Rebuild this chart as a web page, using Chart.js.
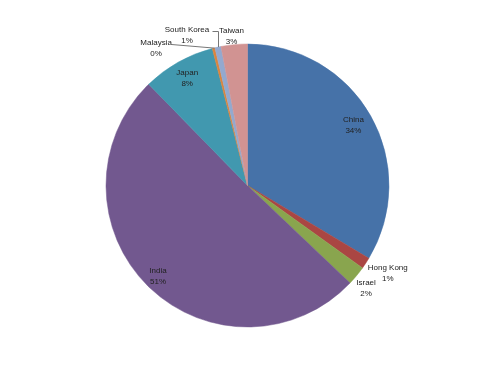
<!DOCTYPE html>
<html lang="en">
<head>
    <meta charset="UTF-8">
    <title>Pie chart</title>
    <script src="https://cdn.jsdelivr.net/npm/chart.js"></script>
    <style>
        html, body { margin: 0; padding: 0; background: #ffffff; }
        #wrap { width: 495px; height: 371px; }
    </style>
</head>
<body>
    <div id="wrap"><canvas id="pie" width="495" height="371"></canvas></div>

    <script>
        // data
        const categories = ["China", "Hong Kong", "Israel", "India", "Japan", "Malaysia", "South Korea", "Taiwan"];
        const shares = [33.6, 1.3, 2.2, 50.6, 8.3, 0.3, 0.7, 3.0];
        const pctLabels = ["34%", "1%", "2%", "51%", "8%", "0%", "1%", "3%"];
        const colors = ["#4672a8", "#aa4643", "#89a54e", "#72588f", "#4198af", "#db843d", "#93a9cf", "#d19392"];

        // label placement: radius factor, optional angle (deg from 12 o'clock), optional leader
        const labelPlace = [
            { r: 0.86 },
            { r: 1.17, a: 122.1 },
            { r: 1.11, a: 131 },
            { r: 0.90 },
            { r: 0.87 },
            { r: 1.164, a: 326.3, leader: { dx: 15, dy: -4 } },
            { r: 1.146, a: 338.1, leader: { dx: 25, dy: -4, elbow: true } },
            { r: 1.063, a: 353.9 }
        ];

        const pieLabels = {
            id: 'pieLabels',
            afterDatasetsDraw(chart) {
                const ctx = chart.ctx;
                const meta = chart.getDatasetMeta(0);
                ctx.save();
                ctx.font = '8px "Liberation Sans", Arial, sans-serif';
                ctx.fillStyle = '#222';
                ctx.textAlign = 'center';
                ctx.textBaseline = 'middle';
                meta.data.forEach((arc, i) => {
                    const p = arc.getProps(['x', 'y', 'startAngle', 'endAngle', 'outerRadius'], true);
                    const mid = (p.startAngle + p.endAngle) / 2;
                    const place = labelPlace[i];
                    const ang = place.a !== undefined ? (place.a * Math.PI / 180 - Math.PI / 2) : mid;
                    const lx = p.x + Math.cos(ang) * p.outerRadius * place.r;
                    const ly = p.y + Math.sin(ang) * p.outerRadius * place.r;
                    ctx.fillText(categories[i], lx, ly - 5.5);
                    ctx.fillText(pctLabels[i], lx, ly + 5.5);
                    if (place.leader) {
                        const ex = p.x + Math.cos(mid) * p.outerRadius;
                        const ey = p.y + Math.sin(mid) * p.outerRadius;
                        const sx = lx + place.leader.dx;
                        const sy = ly + place.leader.dy;
                        ctx.strokeStyle = '#777';
                        ctx.lineWidth = 1;
                        ctx.beginPath();
                        ctx.moveTo(Math.round(sx) + 0.5, Math.round(sy) + 0.5);
                        if (place.leader.elbow) {
                            ctx.lineTo(Math.round(ex) + 0.5, Math.round(sy) + 0.5);
                        }
                        ctx.lineTo(Math.round(ex) + 0.5, ey);
                        ctx.stroke();
                    }
                });
                ctx.restore();
            }
        };

        new Chart(document.getElementById('pie'), {
            type: 'pie',
            data: {
                labels: categories,
                datasets: [{
                    data: shares,
                    backgroundColor: colors,
                    borderColor: colors,
                    borderWidth: 0.5,
                    radius: 141.5
                }]
            },
            options: {
                responsive: false,
                animation: false,
                plugins: {
                    legend: { display: false },
                    tooltip: { enabled: false }
                }
            },
            plugins: [pieLabels]
        });
    </script>
</body>
</html>
